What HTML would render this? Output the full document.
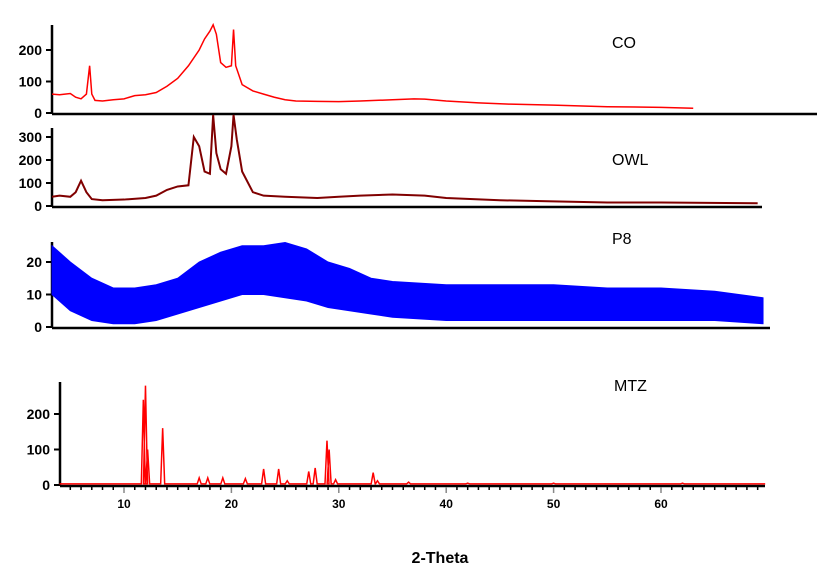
<!DOCTYPE html>
<html><head><meta charset="utf-8"><style>
body{margin:0;background:#fff}
svg{display:block}
text{font-family:"Liberation Sans",sans-serif}
</style></head><body>
<svg id="c" width="817" height="577"></svg>
<script>
const coAngles=[3.3,4,5,5.5,6,6.5,6.8,7.0,7.3,8,9,10,11,12,13,14,15,16,17,17.5,18,18.3,18.6,19,19.5,20,20.2,20.4,21,22,23,24,25,26,28,30,32,35,37,38,40,43,46,50,55,60,63];
const coValues=[60,58,62,50,45,60,150,60,40,38,42,45,55,58,65,85,110,150,200,235,260,280,250,160,145,150,265,150,90,70,60,50,42,38,37,36,38,42,45,44,38,32,28,25,20,18,15];
const owlAngles=[3.3,4,5,5.5,6,6.5,7,8,10,12,13,14,15,16,16.5,17,17.5,18,18.3,18.6,19,19.5,20,20.2,20.5,21,22,23,25,28,30,32,35,38,40,45,50,55,60,69];
const owlValues=[40,45,40,60,110,60,30,25,28,35,45,70,85,90,300,260,150,140,400,230,160,140,260,400,290,150,60,45,40,35,40,45,50,45,35,25,20,15,15,12];
const p8Angles=[3.3,5,7,9,11,13,15,17,19,21,23,25,27,29,31,33,35,40,45,50,55,60,65,69.5];
const p8Low=[10,5,2,1,1,2,4,6,8,10,10,9,8,6,5,4,3,2,2,2,2,2,2,1];
const p8High=[25,20,15,12,12,13,15,20,23,25,25,26,24,20,18,15,14,13,13,13,12,12,11,9];
const mtzPeakAngles=[11.8,12.0,12.2,13.6,17,17.8,19.2,21.3,23,24.4,25.2,27.2,27.8,28.9,29.1,29.7,33.2,33.6,36.5,42,50,62];
const mtzPeakHeights=[240,280,100,160,20,20,20,18,45,45,12,38,48,125,100,15,35,12,8,5,5,5];
const xTicks=[10,20,30,40,50,60];

const svg=document.getElementById('c');
const NS='http://www.w3.org/2000/svg';
function X(t){return 124+(t-10)*10.74;}
function mk(tag,attrs,parent){const e=document.createElementNS(NS,tag);for(const k in attrs)e.setAttribute(k,attrs[k]);(parent||svg).appendChild(e);return e;}

function panel(name,axisX,y0,pxPer,top,right,ticks,color,sw){
  const g=mk('g',{});
  
  
  const ya=mk('line',{x1:axisX,y1:top,x2:axisX,y2:y0+1,stroke:'#000','stroke-width':2.5},g);
  
  
  const xa=mk('line',{x1:axisX,y1:y0+1,x2:right,y2:y0+1,stroke:'#000','stroke-width':2.5},g);
  
  
  ticks.forEach(v=>{
    const y=y0-v*pxPer;
    mk('line',{x1:axisX-6,y1:y,x2:axisX,y2:y,stroke:'#000','stroke-width':2},g);
    const t=mk('text',{x:axisX-10,y:y+5,'text-anchor':'end','font-size':14,'font-weight':'bold'},g);
    t.textContent=v;
    
    
  });
  return g;
}
function Yf(y0,p){return v=>y0-v*p;}

// CO
const gCO=panel('co',52,113,0.315,25,817,[0,100,200]);
const yCO=Yf(113,0.315);
const pCO=mk('polyline',{points:coAngles.map((a,i)=>X(a)+','+yCO(coValues[i])).join(' '),fill:'none',stroke:'#f00','stroke-width':1.5},gCO);



// OWL
const gOW=panel('owl',52,206,0.23,128,762,[0,100,200,300]);
const yOW=Yf(206,0.23);
const pOW=mk('polyline',{points:owlAngles.map((a,i)=>X(a)+','+Math.max(115,yOW(owlValues[i]))).join(' '),fill:'none',stroke:'#800000','stroke-width':2},gOW);



// P8
const gP8=panel('p8',52,327,3.25,242,770,[0,10,20]);
const yP8=Yf(327,3.25);
const pts=p8Angles.map((a,i)=>X(a)+','+yP8(p8High[i])).concat(p8Angles.slice().reverse().map((a,j)=>{const i=p8Angles.length-1-j;return X(a)+','+yP8(p8Low[i]);}));
const band=mk('polygon',{points:pts.join(' '),fill:'#0000ff',stroke:'#0000ff','stroke-width':1},gP8);



// MTZ
const gMT=panel('mtz',60,485,0.355,382,765,[0,100,200]);
const yMT=Yf(485,0.355);
let d='M'+X(4)+','+yMT(3);
mtzPeakAngles.forEach((a,i)=>{
  d+=' L'+(X(a)-2)+','+yMT(3)+' L'+X(a)+','+yMT(mtzPeakHeights[i])+' L'+(X(a)+2)+','+yMT(3);
});
d+=' L'+X(69.7)+','+yMT(3);
const pMT=mk('path',{d:d,fill:'none',stroke:'#f00','stroke-width':1.5},gMT);


for(let t=5;t<=69;t++){
  const major=t%10===0;
  mk('line',{x1:X(t),y1:487,x2:X(t),y2:major?493:490,stroke:major?'#888':'#000','stroke-width':1.5},gMT);
}
xTicks.forEach(t=>{
  const tx=mk('text',{x:X(t),y:508,'text-anchor':'middle','font-size':12,'font-weight':'bold'},gMT);
  tx.textContent=t;
  
  
});

// labels
[['CO',612,48],['OWL',612,165],['P8',612,244],['MTZ',614,391]].forEach(l=>{
  const t=mk('text',{x:l[1],y:l[2],'font-size':16});
  t.textContent=l[0];
  
  
});
const xt=mk('text',{x:440,y:563,'text-anchor':'middle','font-size':16,'font-weight':'bold'});
xt.textContent='2-Theta';


</script>
</body></html>
